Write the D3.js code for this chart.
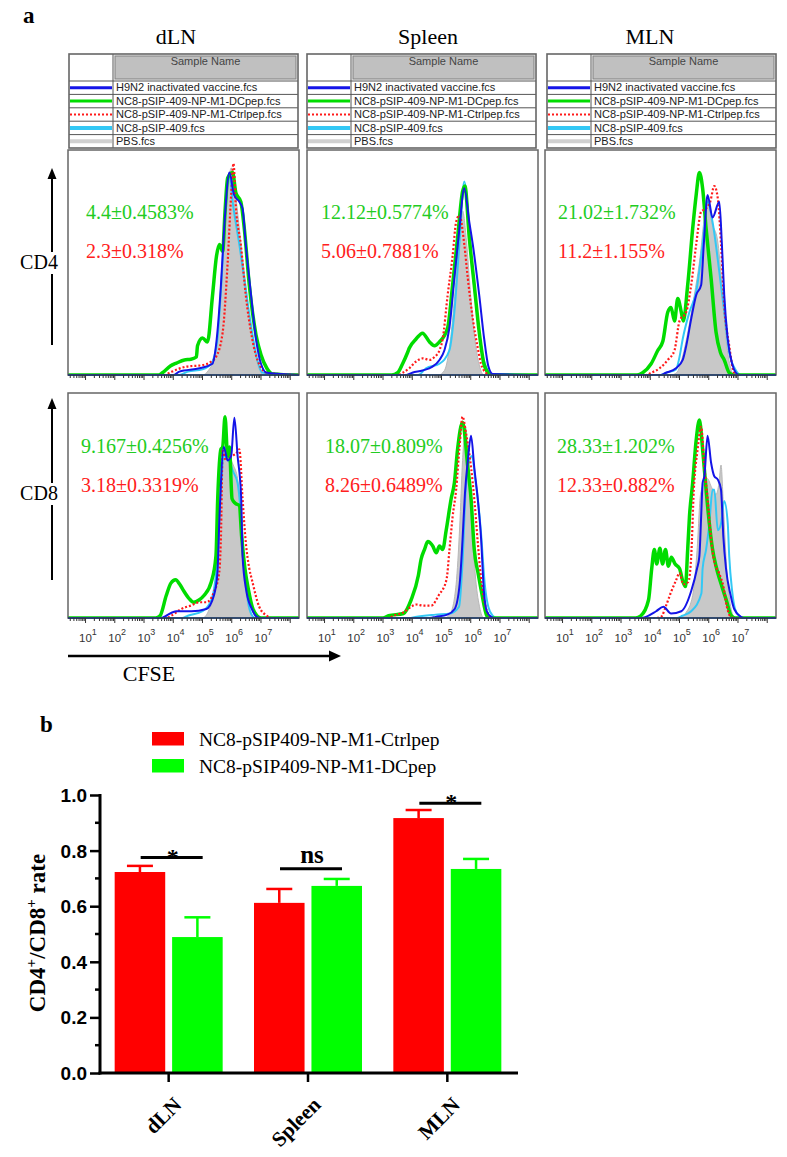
<!DOCTYPE html>
<html><head><meta charset="utf-8">
<script src="https://cdn.jsdelivr.net/npm/d3@7"></script>
<style>body{margin:0;background:#fff}svg{display:block}</style>
</head><body>
<script>
// ---------------- DATA ----------------
const tissues = ["dLN", "Spleen", "MLN"];
const markers = ["CD4", "CD8"];
const sampleNames = ["H9N2 inactivated vaccine.fcs", "NC8-pSIP-409-NP-M1-DCpep.fcs", "NC8-pSIP-409-NP-M1-Ctrlpep.fcs", "NC8-pSIP-409.fcs", "PBS.fcs"];
const seriesKeys = ["blue", "green", "red", "cyan", "gray"];
const pctGreen = ["4.4±0.4583%", "12.12±0.5774%", "21.02±1.732%", "9.167±0.4256%", "18.07±0.809%", "28.33±1.202%"];
const pctRed = ["2.3±0.318%", "5.06±0.7881%", "11.2±1.155%", "3.18±0.3319%", "8.26±0.6489%", "12.33±0.882%"];
const decadeLabels = [1, 2, 3, 4, 5, 6, 7];

// histogram curves: [log10(CFSE), % of mode]
const dLN_CD4_blue = [[0.4,0],[4.0,0],[4.21,1.5],[4.9,3],[5.34,5],[5.46,13],[5.63,40],[5.74,65],[5.92,90],[6.08,80],[6.26,77],[6.37,74],[6.48,58],[6.66,35.5],[6.83,16],[7.0,5],[7.2,1],[8.3,0]];
const dLN_CD4_green = [[0.4,0],[3.5,0],[3.63,1],[3.9,4],[4.11,5.3],[4.38,6.7],[4.6,7],[4.79,8],[4.83,13],[5.0,16.4],[5.17,14.7],[5.34,35],[5.48,53],[5.58,58],[5.69,55],[5.77,72.6],[5.86,87.6],[6.03,90],[6.14,81],[6.31,77],[6.43,65],[6.6,40],[6.83,17.8],[7.0,9],[7.2,3],[7.39,0.5],[8.3,0]];
const dLN_CD4_red = [[0.4,0],[3.7,0],[3.87,1],[4.44,3.7],[5.01,4.4],[5.3,6],[5.46,8],[5.69,19],[5.86,50],[5.98,80],[6.06,94],[6.14,75],[6.31,58],[6.48,35.5],[6.7,16],[6.9,6],[7.2,1],[8.3,0]];
const dLN_CD4_cyan = [[0.4,0],[4.2,0],[4.5,1.5],[5.0,2.5],[5.3,5],[5.5,15],[5.65,42],[5.78,72],[5.92,88],[6.05,75],[6.26,58],[6.48,38],[6.66,22],[6.85,8],[7.05,1],[8.3,0]];
const dLN_CD4_gray = [[0.4,0],[5.0,0],[5.2,2],[5.46,10],[5.63,35],[5.8,70],[5.98,92],[6.15,78],[6.3,60],[6.48,40],[6.66,20],[6.83,8],[7.0,1],[7.1,0],[8.3,0]];

const spl_CD4_blue = [[0.4,0],[3.8,0],[4.0,1],[4.35,2],[4.69,3.7],[4.93,6.7],[5.1,11],[5.27,21],[5.44,43],[5.61,65],[5.78,83],[5.95,68],[6.07,58],[6.29,35.5],[6.46,16],[6.6,4],[6.75,0.5],[8.3,0]];
const spl_CD4_green = [[0.4,0],[3.3,0],[3.5,1],[3.67,5],[3.84,10],[3.9,12],[4.13,16],[4.35,18.6],[4.59,14.7],[4.76,13],[4.93,14.7],[5.21,21],[5.38,40],[5.55,61],[5.72,81.5],[5.8,84],[5.95,61],[6.12,40],[6.29,19],[6.45,5],[6.6,1],[6.75,0],[8.3,0]];
const spl_CD4_red = [[0.4,0],[3.5,0],[3.67,1],[3.9,3],[4.13,6],[4.36,7.4],[4.59,6.7],[4.76,8],[4.93,11],[5.04,16],[5.21,35.5],[5.38,53],[5.5,68],[5.61,71],[5.78,58],[5.9,43],[6.07,25],[6.24,12],[6.35,5],[6.52,1],[6.65,0],[8.3,0]];
const spl_CD4_cyan = [[0.4,0],[4.2,0],[4.47,3],[4.93,5],[5.27,11],[5.44,28],[5.61,58],[5.78,86],[6.01,53],[6.24,25],[6.4,9],[6.52,3.7],[6.7,0.5],[8.3,0]];
const spl_CD4_gray = [[0.4,0],[4.9,0],[5.1,2],[5.3,15],[5.45,35],[5.6,60],[5.72,73],[5.85,60],[6.0,35],[6.15,15],[6.3,4],[6.45,0],[8.3,0]];

const mln_CD4_blue = [[0.4,0],[4.35,0],[4.54,1],[4.88,3],[5.11,6.7],[5.23,13],[5.4,25],[5.57,35.5],[5.74,40],[5.83,58],[5.96,80],[6.13,70],[6.36,77],[6.45,58],[6.53,35.5],[6.65,16],[6.8,5],[6.93,1],[7.05,0],[8.3,0]];
const mln_CD4_green = [[0.4,0],[3.55,0],[3.74,1],[4.03,5],[4.26,11],[4.43,15],[4.6,28],[4.71,30],[4.83,24],[4.94,34],[5.06,28],[5.13,24],[5.28,40],[5.45,65],[5.57,80],[5.68,90],[5.79,83],[5.91,65],[6.08,43],[6.25,19],[6.4,10],[6.53,6.7],[6.7,1],[6.85,0],[8.3,0]];
const mln_CD4_red = [[0.4,0],[3.85,0],[4.03,1],[4.32,3],[4.6,6.7],[4.83,11],[5.0,24],[5.23,28],[5.4,40],[5.57,58],[5.74,72.6],[5.91,74],[6.05,77],[6.19,84],[6.31,78.5],[6.42,58],[6.53,31],[6.7,13],[6.87,1],[7.0,0],[8.3,0]];
const mln_CD4_cyan = [[0.4,0],[4.35,0],[4.54,1],[4.88,2.5],[5.0,8],[5.11,16],[5.34,28],[5.57,37],[5.79,58],[5.96,77],[6.13,68],[6.36,46],[6.53,28],[6.7,10],[6.93,2],[7.1,0],[8.3,0]];
const mln_CD4_gray = [[0.4,0],[4.7,0],[4.9,1],[5.1,8],[5.3,20],[5.5,35],[5.7,52],[5.85,70],[5.96,78],[6.1,68],[6.3,60],[6.45,40],[6.6,15],[6.75,3],[6.85,0],[8.3,0]];

const dLN_CD8_blue = [[0.4,0],[3.6,0],[3.76,1],[4.1,3],[4.62,3],[5.13,4],[5.39,10],[5.51,20],[5.58,45],[5.73,76],[5.86,70],[5.98,72],[6.09,89],[6.2,72],[6.32,54],[6.37,27.5],[6.5,12],[6.69,4],[6.86,0.5],[7.0,0],[8.3,0]];
const dLN_CD8_green = [[0.4,0],[3.4,0],[3.55,1],[3.76,10],[3.92,15.5],[4.08,17],[4.22,15],[4.36,12],[4.55,8.5],[4.7,7],[4.88,8],[5.05,10],[5.3,16],[5.46,27.5],[5.52,53],[5.63,75],[5.69,76],[5.77,89.5],[5.86,72],[5.92,76],[6.01,53],[6.12,51],[6.26,50],[6.34,36],[6.45,22],[6.58,12],[6.7,5],[6.86,1],[7.0,0],[8.3,0]];
const dLN_CD8_red = [[0.4,0],[3.75,0],[3.93,1],[4.27,4],[4.62,5.6],[4.88,7],[5.13,7],[5.39,11.5],[5.57,20],[5.63,36],[5.69,75],[5.8,70],[5.98,72],[6.15,73],[6.26,75],[6.37,53],[6.48,33.6],[6.6,22],[6.69,17],[6.94,5],[7.2,1],[7.35,0],[8.3,0]];
const dLN_CD8_cyan = [[0.4,0],[4.3,0],[4.5,1],[5.0,3],[5.3,8],[5.5,25],[5.62,55],[5.72,72],[5.9,70],[6.05,65],[6.2,60],[6.32,45],[6.42,25],[6.55,8],[6.7,1],[6.8,0],[8.3,0]];
const dLN_CD8_gray = [[0.4,0],[5.0,0],[5.2,3],[5.4,12],[5.55,35],[5.65,65],[5.75,74],[5.9,72],[6.05,68],[6.2,62],[6.3,45],[6.4,22],[6.55,6],[6.7,1],[6.8,0],[8.3,0]];

const spl_CD8_blue = [[0.4,0],[4.6,0],[4.8,0.5],[5.2,1.5],[5.45,4],[5.62,15],[5.72,35],[5.8,55],[5.9,70],[6.01,81],[6.12,67],[6.24,53],[6.35,36],[6.45,12],[6.55,3],[6.7,0.5],[6.8,0],[8.3,0]];
const spl_CD8_green = [[0.4,0],[3.0,0],[3.19,1],[3.7,2],[3.96,8],[4.21,19],[4.3,26],[4.42,30.5],[4.53,34],[4.7,32],[4.82,29],[4.93,32],[5.04,30.5],[5.16,39],[5.33,53],[5.44,60],[5.55,75],[5.72,87],[5.9,67],[6.01,53],[6.12,30.5],[6.25,20],[6.37,11.5],[6.55,1],[6.65,0],[8.3,0]];
const spl_CD8_red = [[0.4,0],[3.2,0],[3.36,1],[3.7,2.5],[3.96,5],[4.13,6],[4.39,5.5],[4.65,5.5],[4.9,10],[5.17,17],[5.27,30],[5.38,45],[5.5,57],[5.61,75],[5.72,89.5],[5.84,82],[6.01,67],[6.12,53],[6.24,33.6],[6.35,18],[6.46,8],[6.63,1],[6.75,0],[8.3,0]];
const spl_CD8_cyan = [[0.4,0],[3.9,0],[4.1,0.5],[4.8,1.5],[5.3,2],[5.6,5],[5.72,25],[5.82,55],[5.95,70],[6.05,72],[6.15,62],[6.24,53],[6.35,38],[6.48,15],[6.6,5],[6.75,1],[6.89,0],[8.3,0]];
const spl_CD8_gray = [[0.4,0],[5.1,0],[5.3,2],[5.5,15],[5.62,40],[5.72,70],[5.82,85],[5.92,70],[6.05,40],[6.15,20],[6.3,5],[6.45,0],[8.3,0]];

const mln_CD8_blue = [[0.4,0],[3.7,0],[3.85,0.5],[4.2,3],[4.45,5],[4.71,2],[5.06,3],[5.4,12],[5.6,22],[5.68,27.5],[5.74,45],[5.79,60],[5.85,63],[5.96,81],[6.08,69],[6.19,63],[6.31,61.5],[6.42,57],[6.5,36],[6.59,22],[6.75,10],[6.87,4],[7.1,0.5],[7.2,0],[8.3,0]];
const mln_CD8_green = [[0.4,0],[3.5,0],[3.68,1],[3.94,8],[4.05,22],[4.14,30.5],[4.22,24],[4.33,31],[4.42,24],[4.52,30.5],[4.62,23],[4.72,27],[4.85,24],[5.0,22],[5.12,16],[5.2,14],[5.28,30.5],[5.34,45],[5.45,60],[5.57,79],[5.68,88],[5.79,75],[5.91,57],[6.02,42],[6.13,30.5],[6.25,23],[6.45,14],[6.6,8],[6.77,1],[6.9,0],[8.3,0]];
const mln_CD8_red = [[0.4,0],[4.2,0],[4.37,0.5],[4.54,5.5],[4.71,11.5],[4.89,17],[5.0,20],[5.13,15],[5.3,16],[5.4,27.5],[5.49,57],[5.62,75],[5.74,85],[5.85,67],[5.96,53],[6.08,35],[6.19,25],[6.35,20],[6.5,14],[6.62,5],[6.75,0.5],[6.85,0],[8.3,0]];
const mln_CD8_cyan = [[0.4,0],[4.9,0],[5.1,1],[5.4,3],[5.75,11],[5.79,22],[5.91,30.5],[6.02,42],[6.13,57],[6.19,57],[6.31,39],[6.42,42],[6.53,52],[6.65,42],[6.7,27.5],[6.8,12],[6.9,4],[7.04,1],[7.15,0],[8.3,0]];
const mln_CD8_gray = [[0.4,0],[5.0,0],[5.2,2],[5.45,10],[5.6,30],[5.72,55],[5.85,60],[5.95,62],[6.1,58],[6.25,55],[6.35,60],[6.42,68],[6.5,50],[6.6,25],[6.75,5],[6.9,0],[8.3,0]];

// bar chart (panel b)
const barCategories = ["dLN", "Spleen", "MLN"];
const barSeries = ["NC8-pSIP409-NP-M1-Ctrlpep", "NC8-pSIP409-NP-M1-DCpep"];
const ctrlMean = [0.723, 0.612, 0.917];
const ctrlSEM = [0.022, 0.050, 0.029];
const dcMean = [0.489, 0.673, 0.734];
const dcSEM = [0.071, 0.025, 0.036];
const sigLabels = ["*", "ns", "*"];
const sigLevel = [0.775, 0.735, 0.970];
const yTicks = [0, 0.2, 0.4, 0.6, 0.8, 1.0];
const yMinorTicks = [0.1, 0.3, 0.5, 0.7, 0.9];

// ---------------- STYLE / LAYOUT ----------------
const W = 787, H = 1157;
const serif = "'Liberation Serif','Times New Roman',serif";
const sans = "'Liberation Sans',Arial,sans-serif";
const styles = {
  blue:  {stroke: "#1414e8", width: 2, dash: null},
  green: {stroke: "#00dc00", width: 3.5, dash: null},
  red:   {stroke: "#ff1a1a", width: 2.2, dash: "2,2"},
  cyan:  {stroke: "#33c8f5", width: 2, dash: null},
  gray:  {stroke: "#b8b8b8", width: 1, dash: null, fill: "#c8c8c8"}
};
const drawOrder = ["gray", "cyan", "green", "red", "blue"];

const svg = d3.select("body").append("svg").attr("width", W).attr("height", H)
  .style("font-family", serif);

const histData = {
  dLN:    {CD4: {blue: dLN_CD4_blue, green: dLN_CD4_green, red: dLN_CD4_red, cyan: dLN_CD4_cyan, gray: dLN_CD4_gray},
           CD8: {blue: dLN_CD8_blue, green: dLN_CD8_green, red: dLN_CD8_red, cyan: dLN_CD8_cyan, gray: dLN_CD8_gray}},
  Spleen: {CD4: {blue: spl_CD4_blue, green: spl_CD4_green, red: spl_CD4_red, cyan: spl_CD4_cyan, gray: spl_CD4_gray},
           CD8: {blue: spl_CD8_blue, green: spl_CD8_green, red: spl_CD8_red, cyan: spl_CD8_cyan, gray: spl_CD8_gray}},
  MLN:    {CD4: {blue: mln_CD4_blue, green: mln_CD4_green, red: mln_CD4_red, cyan: mln_CD4_cyan, gray: mln_CD4_gray},
           CD8: {blue: mln_CD8_blue, green: mln_CD8_green, red: mln_CD8_red, cyan: mln_CD8_cyan, gray: mln_CD8_gray}}
};

const colX = [68, 307, 545];
const colTitleX = [176, 428, 650];
const panelTop = [150, 393];
const panelW = 231, panelH = 225;
const textDX = [[18, 14, 13], [13, 18, 12]];
const textGreenDY = [69, 60], textRedDY = [108, 99];

// panel label a
svg.append("text").attr("x", 23).attr("y", 23).attr("font-size", 23).attr("font-weight", "bold").text("a");

// column titles
tissues.forEach((t, c) => {
  svg.append("text").attr("x", colTitleX[c]).attr("y", 44).attr("text-anchor", "middle")
    .attr("font-size", 22).text(t);
});

// legend tables
const legX = [69, 307, 547];
tissues.forEach((t, c) => {
  const g = svg.append("g").attr("transform", `translate(${legX[c]},54)`);
  const w = 229, h = 94, div = 44, hdr = 27, rh = (h - hdr) / 5;
  g.append("rect").attr("x", div + 2).attr("y", 2).attr("width", w - div - 4).attr("height", hdr - 4)
    .attr("fill", "#c0c0c0").attr("stroke", "#8a8a8a").attr("stroke-width", 1.2);
  g.append("text").attr("x", div + (w - div) / 2).attr("y", 11).attr("text-anchor", "middle")
    .attr("font-family", sans).attr("font-size", 11).attr("fill", "#444").text("Sample Name");
  sampleNames.forEach((n, i) => {
    const yy = hdr + i * rh;
    g.append("line").attr("x1", 0).attr("x2", w).attr("y1", yy).attr("y2", yy).attr("stroke", "#555").attr("stroke-width", 1);
    g.append("text").attr("x", div + 3).attr("y", yy + rh - 3).attr("font-family", sans).attr("font-size", 11)
      .attr("fill", "#222").text(n);
    const k = seriesKeys[i], st = styles[k];
    g.append("line").attr("x1", 1).attr("x2", div - 1).attr("y1", yy + rh / 2).attr("y2", yy + rh / 2)
      .attr("stroke", k === "gray" ? "#d0d0d0" : st.stroke)
      .attr("stroke-width", k === "red" ? 2 : (k === "cyan" || k === "gray" ? 4 : 3))
      .attr("stroke-dasharray", k === "red" ? "2,2" : null);
  });
  g.append("line").attr("x1", div).attr("x2", div).attr("y1", 0).attr("y2", h).attr("stroke", "#555").attr("stroke-width", 1);
  g.append("rect").attr("x", 0).attr("y", 0).attr("width", w).attr("height", h)
    .attr("fill", "none").attr("stroke", "#666").attr("stroke-width", 1.6);
});

// histogram panels
markers.forEach((m, r) => {
  tissues.forEach((t, c) => {
    const x0 = colX[c], y0 = panelTop[r];
    const x = d3.scaleLog().domain([10 ** 0.4, 10 ** 8.3]).range([x0, x0 + panelW]);
    const y = d3.scaleLinear().domain([0, 100]).range([y0 + panelH, y0]);
    const g = svg.append("g");
    const cid = `clip-${r}-${c}`;
    svg.append("clipPath").attr("id", cid).append("rect")
      .attr("x", x0).attr("y", y0).attr("width", panelW).attr("height", panelH + 1);
    const pg = g.append("g").attr("clip-path", `url(#${cid})`);
    const data = histData[t][m];
    const line = d3.line().x(d => x(10 ** d[0])).y(d => y(d[1])).curve(d3.curveMonotoneX);
    const area = d3.area().x(d => x(10 ** d[0])).y0(y(0)).y1(d => y(d[1])).curve(d3.curveMonotoneX);
    drawOrder.forEach(k => {
      const st = styles[k];
      if (k === "gray") {
        pg.append("path").attr("d", area(data[k])).attr("fill", st.fill).attr("stroke", st.stroke).attr("stroke-width", st.width);
      } else {
        pg.append("path").attr("d", line(data[k])).attr("fill", "none").attr("stroke", st.stroke)
          .attr("stroke-width", st.width).attr("stroke-dasharray", st.dash).attr("stroke-linejoin", "round");
      }
    });
    g.append("rect").attr("x", x0).attr("y", y0).attr("width", panelW).attr("height", panelH)
      .attr("fill", "none").attr("stroke", "#666").attr("stroke-width", 1.5);
    g.append("line").attr("x1", x0).attr("x2", x0 + panelW).attr("y1", y(0)).attr("y2", y(0))
      .attr("stroke", "#1a3a6a").attr("stroke-width", 1.5);
    const ticks = x.ticks().filter(v => v >= 10 ** 0.4 && v <= 10 ** 8.3);
    g.selectAll(null).data(ticks).join("line")
      .attr("x1", d => x(d)).attr("x2", d => x(d))
      .attr("y1", y(0)).attr("y2", d => y(0) + (Math.abs(Math.log10(d) - Math.round(Math.log10(d))) < 1e-6 ? 5 : 3))
      .attr("stroke", "#333").attr("stroke-width", 1);
    if (r === 1) {
      decadeLabels.forEach(k => {
        const tx = g.append("text").attr("x", x(10 ** k) - 6.5).attr("y", y0 + panelH + 24)
          .attr("font-family", sans).attr("font-size", 11.5).attr("fill", "#333");
        tx.append("tspan").text("10");
        tx.append("tspan").attr("dy", -7).attr("font-size", 9).text(k);
      });
    }
    const idx = r * 3 + c;
    g.append("text").attr("x", x0 + textDX[r][c]).attr("y", y0 + textGreenDY[r]).attr("font-size", 20)
      .attr("fill", "#22cc22").text(pctGreen[idx]);
    g.append("text").attr("x", x0 + textDX[r][c]).attr("y", y0 + textRedDY[r]).attr("font-size", 20)
      .attr("fill", "#ff2020").text(pctRed[idx]);
  });
});

// marker arrows
function vArrow(xx, yBottom, yTop) {
  svg.append("line").attr("x1", xx).attr("x2", xx).attr("y1", yBottom).attr("y2", yTop + 8)
    .attr("stroke", "#000").attr("stroke-width", 2);
  svg.append("path").attr("d", `M${xx},${yTop} L${xx - 4.5},${yTop + 11} L${xx + 4.5},${yTop + 11} Z`).attr("fill", "#000");
}
vArrow(52, 345, 168);
vArrow(52, 580, 398);
[["CD4", 269], ["CD8", 500]].forEach(([lab, yy]) => {
  svg.append("rect").attr("x", 18).attr("y", yy - 17).attr("width", 42).attr("height", 22).attr("fill", "#fff");
  svg.append("text").attr("x", 39).attr("y", yy).attr("text-anchor", "middle").attr("font-size", 20).text(lab);
});
// CFSE arrow
svg.append("line").attr("x1", 68).attr("x2", 332).attr("y1", 656).attr("y2", 656).attr("stroke", "#000").attr("stroke-width", 2.5);
svg.append("path").attr("d", "M341,656 L329,650.5 L329,661.5 Z").attr("fill", "#000");
svg.append("text").attr("x", 149).attr("y", 681).attr("text-anchor", "middle").attr("font-size", 22).text("CFSE");

// ---------------- PANEL b ----------------
svg.append("text").attr("x", 40).attr("y", 732).attr("font-size", 23).attr("font-weight", "bold").text("b");
const barColors = ["#ff0000", "#00ff00"];
barSeries.forEach((s, i) => {
  svg.append("rect").attr("x", 152).attr("y", 732 + i * 27).attr("width", 32).attr("height", 13.5).attr("fill", barColors[i]);
  svg.append("text").attr("x", 199).attr("y", 746 + i * 27).attr("font-size", 19.5).text(s);
});

const bx = d3.scaleBand().domain(barCategories).range([99, 517]);
const bx1 = d3.scaleBand().domain(barSeries).range([-54, 54]).paddingInner(0.12);
const by = d3.scaleLinear().domain([0, 1]).range([1073, 795]);
const bg = svg.append("g");
const barRows = barCategories.map((c, i) => [
  {cat: c, s: barSeries[0], m: ctrlMean[i], e: ctrlSEM[i], col: barColors[0]},
  {cat: c, s: barSeries[1], m: dcMean[i], e: dcSEM[i], col: barColors[1]}
]).flat();
const cx = d => bx(d.cat) + bx.bandwidth() / 2;
bg.selectAll(null).data(barRows).join("line")
  .attr("x1", d => cx(d) + bx1(d.s) + bx1.bandwidth() / 2).attr("x2", d => cx(d) + bx1(d.s) + bx1.bandwidth() / 2)
  .attr("y1", d => by(d.m)).attr("y2", d => by(d.m + d.e)).attr("stroke", d => d.col).attr("stroke-width", 2.5);
bg.selectAll(null).data(barRows).join("line")
  .attr("x1", d => cx(d) + bx1(d.s) + bx1.bandwidth() / 2 - 13).attr("x2", d => cx(d) + bx1(d.s) + bx1.bandwidth() / 2 + 13)
  .attr("y1", d => by(d.m + d.e)).attr("y2", d => by(d.m + d.e)).attr("stroke", d => d.col).attr("stroke-width", 2.5);
bg.selectAll(null).data(barRows).join("rect")
  .attr("x", d => cx(d) + bx1(d.s)).attr("width", bx1.bandwidth())
  .attr("y", d => by(d.m)).attr("height", d => by(0) - by(d.m)).attr("fill", d => d.col);

barCategories.forEach((c, i) => {
  const xc = bx(c) + bx.bandwidth() / 2;
  const yy = by(sigLevel[i]);
  bg.append("line").attr("x1", xc - 28).attr("x2", xc + 34).attr("y1", yy).attr("y2", yy).attr("stroke", "#000").attr("stroke-width", 3);
  bg.append("text").attr("x", xc + 4).attr("y", sigLabels[i] === "ns" ? yy - 6 : yy + 7).attr("text-anchor", "middle")
    .attr("font-weight", "bold").attr("font-size", sigLabels[i] === "ns" ? 25 : 24).text(sigLabels[i]);
});

const yAxis = d3.axisLeft(by).tickValues(yTicks).tickSize(10).tickPadding(3).tickFormat(d3.format(".1f"));
const ya = svg.append("g").attr("transform", "translate(100,0)").call(yAxis);
ya.select(".domain").attr("stroke-width", 3).attr("d", `M0,${by(1) - 1}V${by(0) + 1.5}`);
ya.selectAll(".tick line").attr("stroke-width", 2.5);
ya.selectAll(".tick text").attr("font-family", sans).attr("font-weight", "bold").attr("font-size", 19).attr("dy", "0.34em");
svg.append("g").selectAll(null).data(yMinorTicks).join("line")
  .attr("x1", 95).attr("x2", 100).attr("y1", d => by(d)).attr("y2", d => by(d)).attr("stroke", "#000").attr("stroke-width", 2.5);

const xAxis = d3.axisBottom(bx).tickSize(9).tickFormat("");
const xa = svg.append("g").attr("transform", `translate(0,${by(0)})`).call(xAxis);
xa.select(".domain").attr("stroke-width", 3).attr("d", "M98.5,0H518");
xa.selectAll(".tick line").attr("stroke-width", 2.5);
barCategories.forEach(c => {
  const xc = bx(c) + bx.bandwidth() / 2;
  svg.append("text").attr("transform", `translate(${xc + 14},1106) rotate(-45)`).attr("text-anchor", "end")
    .attr("font-weight", "bold").attr("font-size", 21).text(c);
});

const yl = svg.append("text").attr("transform", "translate(45,933) rotate(-90)").attr("text-anchor", "middle")
  .attr("font-weight", "bold").attr("font-size", 23);
yl.append("tspan").text("CD4");
yl.append("tspan").attr("dy", -9).attr("font-size", 15).text("+");
yl.append("tspan").attr("dy", 9).text("/CD8");
yl.append("tspan").attr("dy", -9).attr("font-size", 15).text("+");
yl.append("tspan").attr("dy", 9).text(" rate");
</script>
</body></html>
